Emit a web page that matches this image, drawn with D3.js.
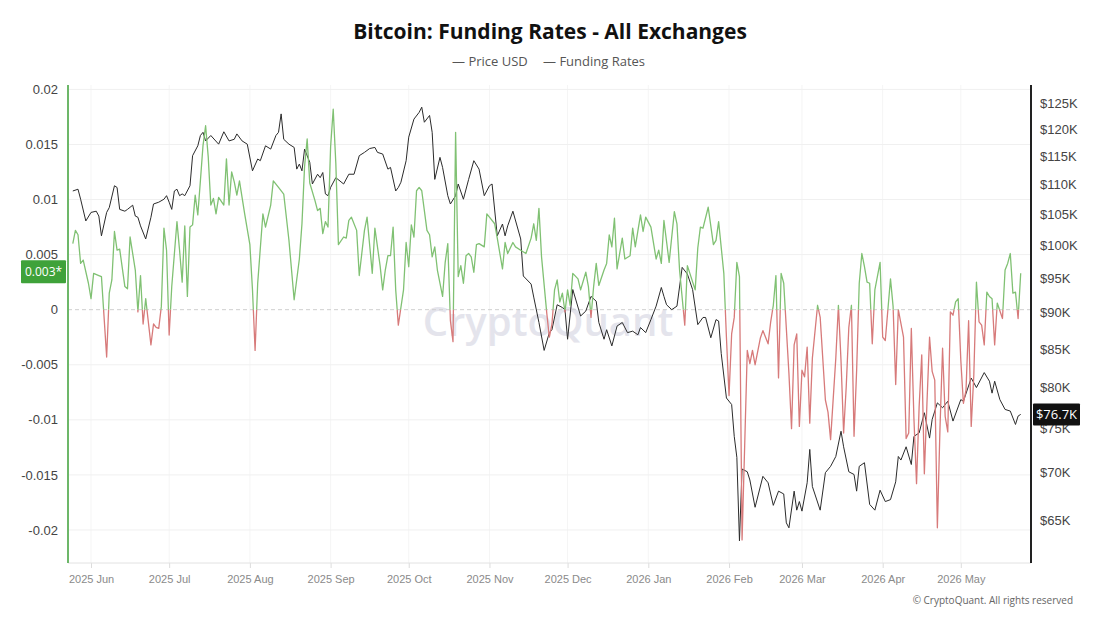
<!DOCTYPE html>
<html>
<head>
<meta charset="utf-8">
<script src="https://cdn.jsdelivr.net/npm/d3@7"></script>
<style>
  body { margin: 0; background: #fff; }
  svg { font-family: "Open Sans", "Noto Sans", sans-serif; }
</style>
</head>
<body>
<svg id="chart" width="1100" height="619"></svg>
<script>
// ---- data ----
var title = "Bitcoin: Funding Rates - All Exchanges";
var seriesNames = ["Price USD", "Funding Rates"];
var monthTicks = ["2025-06-01", "2025-07-01", "2025-08-01", "2025-09-01", "2025-10-01", "2025-11-01",
  "2025-12-01", "2026-01-01", "2026-02-01", "2026-03-01", "2026-04-01", "2026-05-01"];
var rateTicks = [0.02, 0.015, 0.01, 0.005, 0, -0.005, -0.01, -0.015, -0.02];
var priceTicks = [65, 70, 75, 80, 85, 90, 95, 100, 105, 110, 115, 120, 125];

// BTC price, thousands of USD
var pricePoints = [
  ["2025-05-25",108.9],["2025-05-27",109.2],["2025-05-28",107.5],["2025-05-30",103.9],
  ["2025-06-01",105.3],["2025-06-03",105.5],["2025-06-04",104.7],["2025-06-05",101.5],["2025-06-07",105.3],
  ["2025-06-08",106.1],["2025-06-10",109.8],["2025-06-11",109.5],["2025-06-12",105.8],["2025-06-14",105.5],
  ["2025-06-15",105.8],["2025-06-17",106.5],["2025-06-18",104.7],["2025-06-19",104.5],["2025-06-20",103.1],
  ["2025-06-22",101.0],["2025-06-24",104.5],["2025-06-25",106.7],["2025-06-27",107.0],["2025-06-29",107.5],
  ["2025-06-30",108.1],["2025-07-01",107.0],["2025-07-02",105.8],["2025-07-03",108.9],["2025-07-04",109.2],
  ["2025-07-05",108.1],["2025-07-06",108.4],["2025-07-07",108.1],["2025-07-09",109.8],["2025-07-10",115.1],
  ["2025-07-12",116.9],["2025-07-13",118.8],["2025-07-14",119.4],["2025-07-15",117.8],["2025-07-17",118.8],
  ["2025-07-20",117.2],["2025-07-22",119.5],["2025-07-24",117.8],["2025-07-26",118.1],["2025-07-27",119.1],
  ["2025-07-29",117.8],["2025-07-31",117.2],["2025-08-02",112.4],["2025-08-04",114.5],["2025-08-05",114.2],
  ["2025-08-07",116.9],["2025-08-09",116.3],["2025-08-11",118.8],["2025-08-12",119.4],["2025-08-13",122.9],
  ["2025-08-14",118.1],["2025-08-16",117.2],["2025-08-18",116.6],["2025-08-19",112.7],["2025-08-20",113.6],
  ["2025-08-21",112.4],["2025-08-22",116.3],["2025-08-24",113.9],["2025-08-25",110.1],["2025-08-27",111.8],
  ["2025-08-28",111.2],["2025-08-29",112.1],["2025-08-30",108.4],["2025-08-31",108.1],["2025-09-01",109.5],
  ["2025-09-03",111.2],["2025-09-06",110.1],["2025-09-08",111.8],["2025-09-10",111.8],["2025-09-12",115.1],
  ["2025-09-14",115.7],["2025-09-16",116.4],["2025-09-18",116.6],["2025-09-19",115.7],["2025-09-21",115.4],
  ["2025-09-23",112.7],["2025-09-24",113.0],["2025-09-26",108.9],["2025-09-27",109.5],["2025-09-28",110.4],
  ["2025-09-30",114.2],["2025-10-01",118.5],["2025-10-03",121.9],["2025-10-05",123.2],["2025-10-06",124.2],
  ["2025-10-07",121.3],["2025-10-09",122.6],["2025-10-10",119.4],["2025-10-11",110.9],["2025-10-13",114.8],
  ["2025-10-14",113.0],["2025-10-16",108.1],["2025-10-17",106.7],["2025-10-19",108.1],["2025-10-20",110.1],
  ["2025-10-22",107.5],["2025-10-24",110.9],["2025-10-26",114.2],["2025-10-28",112.7],["2025-10-30",108.1],
  ["2025-11-01",109.8],["2025-11-02",110.1],["2025-11-04",101.5],["2025-11-06",103.4],["2025-11-07",101.5],
  ["2025-11-08",103.1],["2025-11-10",105.5],["2025-11-13",101.0],["2025-11-14",95.3],["2025-11-17",94.1],
  ["2025-11-18",92.2],["2025-11-20",88.6],["2025-11-22",84.8],["2025-11-24",87.2],["2025-11-25",87.6],
  ["2025-11-27",91.1],["2025-11-29",90.7],["2025-11-30",90.4],["2025-12-01",86.3],["2025-12-03",93.3],
  ["2025-12-06",89.5],["2025-12-08",90.2],["2025-12-10",92.3],["2025-12-12",91.6],["2025-12-13",88.6],
  ["2025-12-15",86.3],["2025-12-16",87.6],["2025-12-18",85.4],["2025-12-20",88.1],["2025-12-22",88.6],
  ["2025-12-24",87.2],["2025-12-26",87.4],["2025-12-28",86.9],["2025-12-29",87.9],["2025-12-31",87.2],
  ["2026-01-02",89.0],["2026-01-04",90.9],["2026-01-06",93.6],["2026-01-07",92.3],["2026-01-08",91.1],
  ["2026-01-10",90.4],["2026-01-12",90.9],["2026-01-14",96.6],["2026-01-16",95.6],["2026-01-18",93.3],
  ["2026-01-20",88.3],["2026-01-22",89.3],["2026-01-23",89.3],["2026-01-25",86.5],["2026-01-27",89.0],
  ["2026-01-28",88.8],["2026-01-29",84.4],["2026-01-31",78.7],["2026-02-02",77.9],["2026-02-03",74.1],
  ["2026-02-04",71.7],["2026-02-05",62.9],["2026-02-06",70.4],["2026-02-08",70.1],["2026-02-09",69.2],
  ["2026-02-11",66.3],["2026-02-14",69.6],["2026-02-16",68.9],["2026-02-18",66.5],["2026-02-20",68.0],
  ["2026-02-22",67.7],["2026-02-23",64.7],["2026-02-24",64.2],["2026-02-26",68.0],["2026-02-27",66.0],
  ["2026-02-28",66.9],["2026-03-01",65.9],["2026-03-03",68.9],["2026-03-04",72.6],["2026-03-05",68.5],
  ["2026-03-08",66.0],["2026-03-10",70.0],["2026-03-12",70.7],["2026-03-14",71.8],["2026-03-16",74.7],
  ["2026-03-17",72.9],["2026-03-19",70.1],["2026-03-21",69.8],["2026-03-22",68.0],["2026-03-23",70.7],
  ["2026-03-25",71.1],["2026-03-27",66.6],["2026-03-29",66.0],["2026-03-31",68.1],["2026-04-02",66.9],
  ["2026-04-04",67.1],["2026-04-06",69.0],["2026-04-07",71.8],["2026-04-08",71.4],["2026-04-10",72.9],
  ["2026-04-12",70.9],["2026-04-13",74.1],["2026-04-15",74.5],["2026-04-17",76.9],["2026-04-19",73.9],
  ["2026-04-20",76.1],["2026-04-22",78.1],["2026-04-24",77.5],["2026-04-26",78.3],["2026-04-28",75.9],
  ["2026-05-01",78.5],["2026-05-02",78.3],["2026-05-05",81.2],["2026-05-07",80.0],["2026-05-10",81.9],
  ["2026-05-12",80.8],["2026-05-13",79.3],["2026-05-14",80.8],["2026-05-16",78.5],["2026-05-18",77.3],
  ["2026-05-20",77.1],["2026-05-22",75.5],["2026-05-23",76.5],["2026-05-24",76.7]
];

// funding rate, all exchanges
var fundingPoints = [
  ["2025-05-25",0.0060],["2025-05-26",0.0072],["2025-05-27",0.0068],["2025-05-28",0.0042],["2025-05-29",0.0045],
  ["2025-05-31",0.0024],["2025-06-01",0.0010],["2025-06-02",0.0033],["2025-06-04",0.0031],["2025-06-05",0.0030],
  ["2025-06-07",-0.0043],["2025-06-08",0.0015],["2025-06-09",0.0027],["2025-06-10",0.0071],["2025-06-11",0.0054],
  ["2025-06-12",0.0055],["2025-06-14",0.0021],["2025-06-15",0.0019],["2025-06-16",0.0066],["2025-06-18",0.0036],
  ["2025-06-19",-0.0002],["2025-06-20",0.0031],["2025-06-21",-0.0013],["2025-06-22",0.0010],["2025-06-24",-0.0032],
  ["2025-06-25",-0.0013],["2025-06-26",-0.0016],["2025-06-27",-0.0017],["2025-06-28",0.0003],["2025-06-29",0.0074],
  ["2025-06-30",0.0054],["2025-07-01",-0.0023],["2025-07-02",0.0021],["2025-07-04",0.0080],["2025-07-05",0.0054],
  ["2025-07-06",0.0025],["2025-07-07",0.0076],["2025-07-08",0.0012],["2025-07-09",0.0075],["2025-07-10",0.0077],
  ["2025-07-11",0.0104],["2025-07-12",0.0086],["2025-07-13",0.0117],["2025-07-14",0.0149],["2025-07-15",0.0167],
  ["2025-07-16",0.0139],["2025-07-17",0.0095],["2025-07-18",0.0101],["2025-07-19",0.0087],["2025-07-20",0.0102],
  ["2025-07-22",0.0095],["2025-07-23",0.0137],["2025-07-24",0.0095],["2025-07-25",0.0125],["2025-07-26",0.0116],
  ["2025-07-27",0.0104],["2025-07-28",0.0117],["2025-07-30",0.0087],["2025-08-01",0.0059],["2025-08-02",0.0018],
  ["2025-08-03",-0.0037],["2025-08-04",0.0024],["2025-08-06",0.0087],["2025-08-07",0.0075],["2025-08-09",0.0095],
  ["2025-08-10",0.0117],["2025-08-12",0.0111],["2025-08-14",0.0105],["2025-08-16",0.0063],["2025-08-18",0.0009],
  ["2025-08-20",0.0046],["2025-08-21",0.0078],["2025-08-22",0.0130],["2025-08-23",0.0155],["2025-08-24",0.0115],
  ["2025-08-26",0.0099],["2025-08-27",0.0090],["2025-08-28",0.0092],["2025-08-29",0.0069],["2025-08-30",0.0080],
  ["2025-08-31",0.0075],["2025-09-01",0.0148],["2025-09-02",0.0182],["2025-09-03",0.0133],["2025-09-04",0.0059],
  ["2025-09-06",0.0066],["2025-09-07",0.0065],["2025-09-08",0.0081],["2025-09-09",0.0084],["2025-09-11",0.0072],
  ["2025-09-12",0.0031],["2025-09-14",0.0072],["2025-09-15",0.0084],["2025-09-17",0.0033],["2025-09-18",0.0074],
  ["2025-09-20",0.0040],["2025-09-21",0.0018],["2025-09-22",0.0036],["2025-09-23",0.0049],["2025-09-24",0.0049],
  ["2025-09-25",0.0075],["2025-09-26",0.0018],["2025-09-27",-0.0014],["2025-09-29",0.0018],["2025-09-30",0.0061],
  ["2025-10-01",0.0039],["2025-10-02",0.0077],["2025-10-03",0.0066],["2025-10-04",0.0108],["2025-10-05",0.0111],
  ["2025-10-06",0.0108],["2025-10-08",0.0072],["2025-10-09",0.0068],["2025-10-10",0.0048],["2025-10-11",0.0057],
  ["2025-10-12",0.0036],["2025-10-14",0.0012],["2025-10-15",0.0043],["2025-10-16",0.0060],["2025-10-17",-0.0010],
  ["2025-10-18",-0.0029],["2025-10-19",0.0161],["2025-10-20",0.0030],["2025-10-21",0.0040],["2025-10-22",0.0024],
  ["2025-10-23",0.0049],["2025-10-24",0.0051],["2025-10-25",0.0048],["2025-10-26",0.0034],["2025-10-27",0.0059],
  ["2025-10-28",0.0060],["2025-10-30",0.0057],["2025-10-31",0.0087],["2025-11-01",0.0084],["2025-11-03",0.0078],
  ["2025-11-04",0.0065],["2025-11-06",0.0037],["2025-11-07",0.0061],["2025-11-08",0.0051],["2025-11-10",0.0061],
  ["2025-11-11",0.0057],["2025-11-13",0.0054],["2025-11-15",0.0051],["2025-11-17",0.0065],["2025-11-18",0.0078],
  ["2025-11-19",0.0063],["2025-11-20",0.0092],["2025-11-21",0.0048],["2025-11-23",-0.0003],["2025-11-24",-0.0025],
  ["2025-11-25",-0.0013],["2025-11-26",0.0018],["2025-11-27",0.0027],["2025-11-28",0.0007],["2025-11-29",0.0015],
  ["2025-11-30",-0.0002],["2025-12-01",0.0018],["2025-12-02",0.0004],["2025-12-03",0.0033],["2025-12-05",0.0028],
  ["2025-12-06",0.0018],["2025-12-08",0.0034],["2025-12-09",0.0021],["2025-12-10",-0.0007],["2025-12-11",0.0021],
  ["2025-12-12",0.0042],["2025-12-13",0.0022],["2025-12-15",0.0036],["2025-12-16",0.0042],["2025-12-17",0.0068],
  ["2025-12-18",0.0057],["2025-12-19",0.0083],["2025-12-20",0.0037],["2025-12-22",0.0065],["2025-12-23",0.0046],
  ["2025-12-25",0.0049],["2025-12-26",0.0074],["2025-12-27",0.0057],["2025-12-29",0.0086],["2025-12-30",0.0071],
  ["2025-12-31",0.0084],["2026-01-02",0.0075],["2026-01-04",0.0046],["2026-01-05",0.0054],["2026-01-06",0.0042],
  ["2026-01-07",0.0081],["2026-01-09",0.0043],["2026-01-11",0.0089],["2026-01-12",0.0078],["2026-01-13",0.0036],
  ["2026-01-15",-0.0014],["2026-01-16",0.0040],["2026-01-19",0.0018],["2026-01-20",0.0056],["2026-01-21",0.0075],
  ["2026-01-22",0.0074],["2026-01-24",0.0093],["2026-01-26",0.0059],["2026-01-27",0.0063],["2026-01-28",0.0080],
  ["2026-01-30",0.0033],["2026-01-31",-0.0025],["2026-02-01",-0.0078],["2026-02-02",-0.0022],["2026-02-03",-0.0007],
  ["2026-02-04",0.0043],["2026-02-05",0.0030],["2026-02-06",-0.0209],["2026-02-07",-0.0124],["2026-02-08",-0.0037],
  ["2026-02-09",-0.0049],["2026-02-10",-0.0037],["2026-02-11",-0.0050],["2026-02-13",-0.0026],["2026-02-14",-0.0019],
  ["2026-02-16",-0.0031],["2026-02-17",-0.0011],["2026-02-18",0.0004],["2026-02-19",0.0031],["2026-02-20",-0.0062],
  ["2026-02-21",0.0033],["2026-02-22",0.0024],["2026-02-24",-0.0058],["2026-02-25",-0.0108],["2026-02-26",-0.0032],
  ["2026-02-27",-0.0022],["2026-02-28",-0.0106],["2026-03-01",-0.0055],["2026-03-02",-0.0061],["2026-03-03",-0.0034],
  ["2026-03-04",-0.0103],["2026-03-05",-0.0044],["2026-03-07",0.0004],["2026-03-08",-0.0007],["2026-03-10",-0.0082],
  ["2026-03-11",-0.0093],["2026-03-12",-0.0118],["2026-03-14",-0.0044],["2026-03-15",0.0004],["2026-03-16",-0.0046],
  ["2026-03-17",-0.0112],["2026-03-18",-0.0070],["2026-03-19",-0.0016],["2026-03-20",0.0004],["2026-03-21",-0.0115],
  ["2026-03-22",-0.0055],["2026-03-23",0.0024],["2026-03-24",0.0051],["2026-03-25",0.0039],["2026-03-26",0.0025],
  ["2026-03-27",0.0024],["2026-03-28",-0.0031],["2026-03-29",0.0018],["2026-03-31",0.0043],["2026-04-01",-0.0025],
  ["2026-04-02",-0.0028],["2026-04-04",0.0028],["2026-04-05",0.0003],["2026-04-06",-0.0068],["2026-04-07",0.0000],
  ["2026-04-09",-0.0025],["2026-04-10",-0.0117],["2026-04-11",-0.0112],["2026-04-12",-0.0017],["2026-04-13",-0.0099],
  ["2026-04-14",-0.0158],["2026-04-15",-0.0088],["2026-04-16",-0.0041],["2026-04-17",-0.0149],["2026-04-18",-0.0085],
  ["2026-04-19",-0.0025],["2026-04-20",-0.0056],["2026-04-21",-0.0064],["2026-04-22",-0.0198],["2026-04-23",-0.0108],
  ["2026-04-24",-0.0035],["2026-04-25",-0.0097],["2026-04-26",-0.0111],["2026-04-27",-0.0002],["2026-04-28",-0.0005],
  ["2026-04-29",0.0007],["2026-04-30",0.0010],["2026-05-01",-0.0046],["2026-05-02",-0.0085],["2026-05-03",-0.0073],
  ["2026-05-04",-0.0010],["2026-05-05",-0.0106],["2026-05-06",-0.0059],["2026-05-07",0.0025],["2026-05-08",-0.0011],
  ["2026-05-09",-0.0014],["2026-05-10",-0.0032],["2026-05-11",0.0016],["2026-05-12",0.0012],["2026-05-13",0.0010],
  ["2026-05-14",-0.0032],["2026-05-15",0.0006],["2026-05-17",-0.0008],["2026-05-18",0.0036],["2026-05-19",0.0042],
  ["2026-05-20",0.0051],["2026-05-21",0.0015],["2026-05-22",0.0016],["2026-05-23",-0.0008],["2026-05-24",0.0033]
];

// ---- layout ----
var W = 1100, H = 619;
var plot = { left: 68, right: 1031, top: 85, bottom: 563 };
var green = "#80c173", red = "#d77a7a";

var parse = d3.utcParse("%Y-%m-%d");
var price = pricePoints.map(function(d) { return { date: parse(d[0]), value: d[1] }; });
var funding = fundingPoints.map(function(d) { return { date: parse(d[0]), value: d[1] }; });

var svg = d3.select("#chart");

var x = d3.scaleUtc()
    .domain([price[0].date, price[price.length - 1].date])
    .range([72.8, 1020.7]);
var yRate = d3.scaleLinear().domain([-0.023, 0.0204]).range([plot.bottom, plot.top]);
var yPrice = d3.scaleLog().domain([60.75, 128.6]).range([plot.bottom, plot.top]);

// title + legend
svg.append("text")
    .attr("x", W / 2).attr("y", 39)
    .attr("text-anchor", "middle")
    .style("font-size", "21px").style("font-weight", 700).style("fill", "#111")
    .text(title);

var legend = svg.append("g").style("font-size", "13px").style("fill", "#555");
legend.append("text").attr("x", 452).attr("y", 66).text("\u2014 " + seriesNames[0]);
legend.append("text").attr("x", 543).attr("y", 66).text("\u2014 " + seriesNames[1]);

// grid
svg.append("g").selectAll("line")
    .data(monthTicks.map(parse))
    .enter().append("line")
    .attr("x1", function(d) { return x(d); }).attr("x2", function(d) { return x(d); })
    .attr("y1", plot.top).attr("y2", plot.bottom)
    .attr("stroke", "#f5f5f5");

svg.append("g").selectAll("line")
    .data(rateTicks.filter(function(d) { return d !== 0; }))
    .enter().append("line")
    .attr("x1", plot.left).attr("x2", plot.right)
    .attr("y1", function(d) { return yRate(d); }).attr("y2", function(d) { return yRate(d); })
    .attr("stroke", "#f0f0f0");

// watermark
svg.append("text")
    .attr("x", 548).attr("y", 336)
    .attr("text-anchor", "middle")
    .style("font-size", "40px").style("font-weight", 600)
    .style("fill", "#e4e4ec")
    .text("CryptoQuant");

// zero line
svg.append("line")
    .attr("x1", plot.left).attr("x2", plot.right)
    .attr("y1", yRate(0)).attr("y2", yRate(0))
    .attr("stroke", "#cfcfcf").attr("stroke-dasharray", "4,3");

// x axis
var xAxis = svg.append("g")
    .attr("transform", "translate(0," + plot.bottom + ")")
    .call(d3.axisBottom(x)
      .tickValues(monthTicks.map(parse))
      .tickSize(5).tickPadding(7)
      .tickFormat(d3.utcFormat("%Y %b")));
xAxis.select(".domain").remove();
xAxis.selectAll(".tick line").attr("stroke", "#dcdcdc");
xAxis.selectAll("text").style("font-size", "11px").style("fill", "#8a8a8a");
svg.append("line")
    .attr("x1", plot.left).attr("x2", plot.right)
    .attr("y1", plot.bottom).attr("y2", plot.bottom)
    .attr("stroke", "#e2e2e2");

// left axis
var leftAxis = svg.append("g")
    .attr("transform", "translate(" + plot.left + ",0)")
    .call(d3.axisLeft(yRate).tickValues(rateTicks).tickSize(0).tickPadding(10)
      .tickFormat(function(d) { return String(d); }));
leftAxis.select(".domain").remove();
leftAxis.selectAll("text").style("font-size", "13px").style("fill", "#444");
svg.append("line")
    .attr("x1", plot.left).attr("x2", plot.left)
    .attr("y1", plot.top).attr("y2", plot.bottom)
    .attr("stroke", "#6db769").attr("stroke-width", 2);

// right axis
var rightAxis = svg.append("g")
    .attr("transform", "translate(" + plot.right + ",0)")
    .call(d3.axisRight(yPrice).tickValues(priceTicks).tickSize(0).tickPadding(9)
      .tickFormat(function(d) { return "$" + d + "K"; }));
rightAxis.select(".domain").remove();
rightAxis.selectAll("text").style("font-size", "13px").style("fill", "#444");
svg.append("line")
    .attr("x1", plot.right).attr("x2", plot.right)
    .attr("y1", plot.top).attr("y2", plot.bottom)
    .attr("stroke", "#222").attr("stroke-width", 2);

// clip regions above / below zero for the funding colours
var defs = svg.append("defs");
defs.append("clipPath").attr("id", "above")
  .append("rect")
    .attr("x", plot.left).attr("y", 0)
    .attr("width", plot.right - plot.left).attr("height", yRate(0));
defs.append("clipPath").attr("id", "below")
  .append("rect")
    .attr("x", plot.left).attr("y", yRate(0))
    .attr("width", plot.right - plot.left).attr("height", H - yRate(0));

// price line
var priceLine = d3.line()
    .x(function(d) { return x(d.date); })
    .y(function(d) { return yPrice(d.value); });
svg.append("path")
    .datum(price)
    .attr("d", priceLine)
    .attr("fill", "none")
    .attr("stroke", "#2b2b2b")
    .attr("stroke-width", 1)
    .attr("stroke-linejoin", "round");

// funding line, green above zero, red below
var rateLine = d3.line()
    .x(function(d) { return x(d.date); })
    .y(function(d) { return yRate(d.value); });
[["above", green], ["below", red]].forEach(function(p) {
  svg.append("path")
      .datum(funding)
      .attr("d", rateLine)
      .attr("clip-path", "url(#" + p[0] + ")")
      .attr("fill", "none")
      .attr("stroke", p[1])
      .attr("stroke-width", 1.3)
      .attr("stroke-linejoin", "round");
});

// last value badges
var lastRate = funding[funding.length - 1].value;
var lastPrice = price[price.length - 1].value;

var rb = svg.append("g").attr("transform", "translate(21," + (yRate(lastRate) - 13) + ")");
rb.append("rect").attr("width", 45).attr("height", 23).attr("rx", 1).attr("fill", "#3fa23a");
rb.append("text").attr("x", 22.5).attr("y", 16)
    .attr("text-anchor", "middle")
    .style("font-size", "12px").style("fill", "#fff")
    .text(d3.format(".3f")(lastRate) + "*");

var pb = svg.append("g").attr("transform", "translate(1033," + (yPrice(lastPrice) - 11) + ")");
pb.append("rect").attr("width", 47).attr("height", 22).attr("rx", 1).attr("fill", "#111");
pb.append("text").attr("x", 23.5).attr("y", 16)
    .attr("text-anchor", "middle")
    .style("font-size", "13px").style("fill", "#fff")
    .text("$" + lastPrice + "K");

// footer
svg.append("text")
    .attr("x", 1073).attr("y", 604)
    .attr("text-anchor", "end")
    .style("font-size", "10px").style("fill", "#666")
    .text("\u00a9 CryptoQuant. All rights reserved");
</script>
</body>
</html>
